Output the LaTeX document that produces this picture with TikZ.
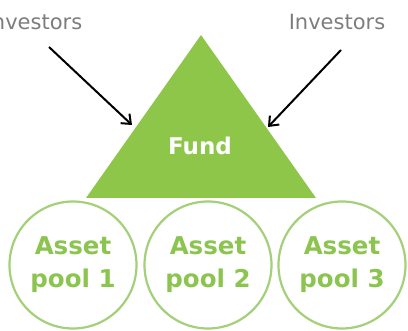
\documentclass[tikz,border=0pt]{standalone}
\usepackage{fontspec}
\setmainfont{DejaVu Sans}
\usetikzlibrary{shapes, arrows.meta, positioning}
\definecolor{fundgreen}{RGB}{141,198,72}
\definecolor{poolline}{RGB}{163,208,120}
\definecolor{pooltext}{RGB}{140,196,80}
\definecolor{invgray}{RGB}{125,125,125}
\tikzset{
  pool/.style={circle, draw=poolline, line width=2.2pt, minimum size=127pt, inner sep=0pt,
    align=center, text=pooltext, font=\bfseries\fontsize{24.5}{33}\selectfont},
  investor/.style={text=invgray, font=\fontsize{21}{24}\selectfont},
  flow/.style={-{Straight Barb[length=8pt,width=13pt]}, line width=2pt, black}
}

\begin{document}
\begin{tikzpicture}[x=1pt, y=-1pt]
\useasboundingbox (0,0) rectangle (408,331);

% Fund triangle
\coordinate (top) at (201,35);
\coordinate (bl) at (86,198);
\coordinate (br) at (316,198);
\fill[fundgreen] (top) -- (bl) -- (br) -- cycle;
\node[text=white, font=\bfseries\fontsize{23}{26}\selectfont] (fund) at (200,146) {Fund};

% Asset pools
\node[pool] (pool1) at (73,265) {Asset\\pool 1};
\node[pool] (pool2) at (208,265) {Asset\\pool 2};
\node[pool] (pool3) at (342,265) {Asset\\pool 3};

% Investors
\node[investor] (invL) at (34,22) {Investors};
\node[investor] (invR) at (337,22) {Investors};
\coordinate (inL) at (49,47);
\coordinate (inR) at (341,50);
\coordinate (tipL) at (132,125);
\coordinate (tipR) at (268,127);
\draw[flow] (inL) -- (tipL);
\draw[flow] (inR) -- (tipR);
\end{tikzpicture}
\end{document}
